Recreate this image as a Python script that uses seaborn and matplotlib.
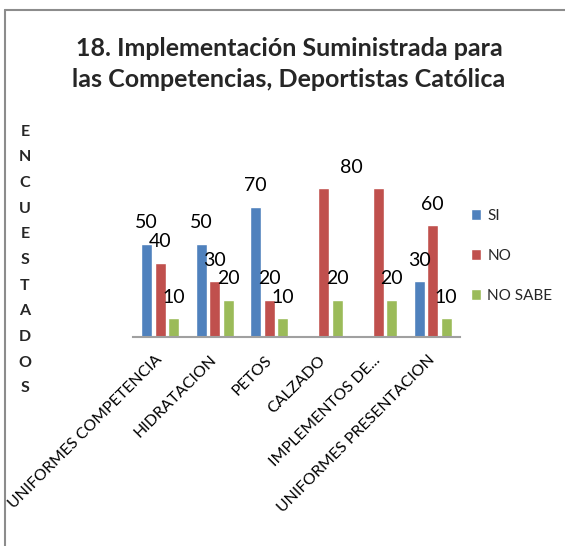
import matplotlib
matplotlib.use("Agg")
import matplotlib.pyplot as plt
from matplotlib.lines import Line2D
import seaborn as sns
import pandas as pd

categories = ["UNIFORMES COMPETENCIA", "HIDRATACION", "PETOS", "CALZADO",
              "IMPLEMENTOS DE...", "UNIFORMES PRESENTACION"]
series_names = ["SI", "NO", "NO SABE"]
si = [50, 50, 70, 0, 0, 30]
no = [40, 30, 20, 80, 80, 60]
no_sabe = [10, 20, 10, 20, 20, 10]
colors = ["#4F81BD", "#C0504D", "#9BBB59"]

rows = []
for s, vals in zip(series_names, [si, no, no_sabe]):
    for c, v in zip(categories, vals):
        rows.append({"cat": c, "serie": s, "val": v})
df = pd.DataFrame(rows)

sns.set_theme(style="white")
plt.rcParams["font.family"] = ["Lato", "DejaVu Sans"]

fig = plt.figure(figsize=(5.65, 5.46), dpi=100)
ax = fig.add_axes([133/565, 1-337/546, (460-133)/565, (337-169.4)/546])

sns.barplot(data=df, x="cat", y="val", hue="serie", order=categories,
            hue_order=series_names, palette=colors, width=0.743, gap=0.19,
            saturation=1, ax=ax, legend=True)

ax.set_ylim(0, 90)
ax.set_xlim(-0.5, len(categories) - 0.5)
ax.set_yticks([])
ax.set_xlabel("")
ax.set_ylabel("")
for sp in ["top", "right", "left"]:
    ax.spines[sp].set_visible(False)
ax.spines["bottom"].set_color("#A0A0A0")
ax.spines["bottom"].set_linewidth(1.5)
ax.tick_params(axis="x", length=0, pad=15)
for lab in ax.get_xticklabels():
    lab.set_rotation(45)
    lab.set_ha("right")
    lab.set_va("center")
    lab.set_rotation_mode("anchor")
    lab.set_fontsize(11.4)
    lab.set_color("black")

# data labels (zeros hidden); the two overlapping "80" labels of the
# NO series are shown once, between their bars, as in the original chart
for si_idx, cont in enumerate(ax.containers):
    vals = list(cont.datavalues)
    labels = [f"{v:g}" if v else "" for v in vals]
    if series_names[si_idx] == "NO":
        i3, i4 = categories.index("CALZADO"), categories.index("IMPLEMENTOS DE...")
        labels[i3] = ""
        labels[i4] = ""
        b3, b4 = cont.patches[i3], cont.patches[i4]
        xm = (b3.get_x() + b3.get_width() / 2 + b4.get_x() + b4.get_width() / 2) / 2
        ax.annotate(f"{vals[i3]:g}", (xm, vals[i3]), xytext=(0, 9),
                    textcoords="offset points", ha="center", va="bottom",
                    fontsize=14, color="black", annotation_clip=False)
    ax.bar_label(cont, labels=labels, padding=9, fontsize=14, color="black",
                 clip_on=False)

handles, labs = ax.get_legend_handles_labels()
ax.legend(handles, labs, loc="upper left", bbox_transform=fig.transFigure,
          bbox_to_anchor=(463/565, 1-201/546), frameon=False, fontsize=11,
          handlelength=0.7, handleheight=0.7, handletextpad=0.4,
          labelspacing=1.7, borderpad=0)

fig.text(289/565, 1-64/546,
         "18. Implementación Suministrada para\nlas Competencias, Deportistas Católica",
         ha="center", va="center", fontsize=18, fontweight="bold",
         linespacing=1.45)

fig.text(25/565, 1-260/546, "\n".join("ENCUESTADOS"), ha="center", va="center",
         fontsize=11.5, fontweight="bold", linespacing=2.06)

fig.add_artist(Line2D([5/565, 5/565], [0, 1-10/546], transform=fig.transFigure,
                      color="#8C8C8C", lw=1.5))
fig.add_artist(Line2D([5/565, 1], [1-10/546, 1-10/546], transform=fig.transFigure,
                      color="#8C8C8C", lw=1.5))

fig.savefig("out.png", dpi=100)
